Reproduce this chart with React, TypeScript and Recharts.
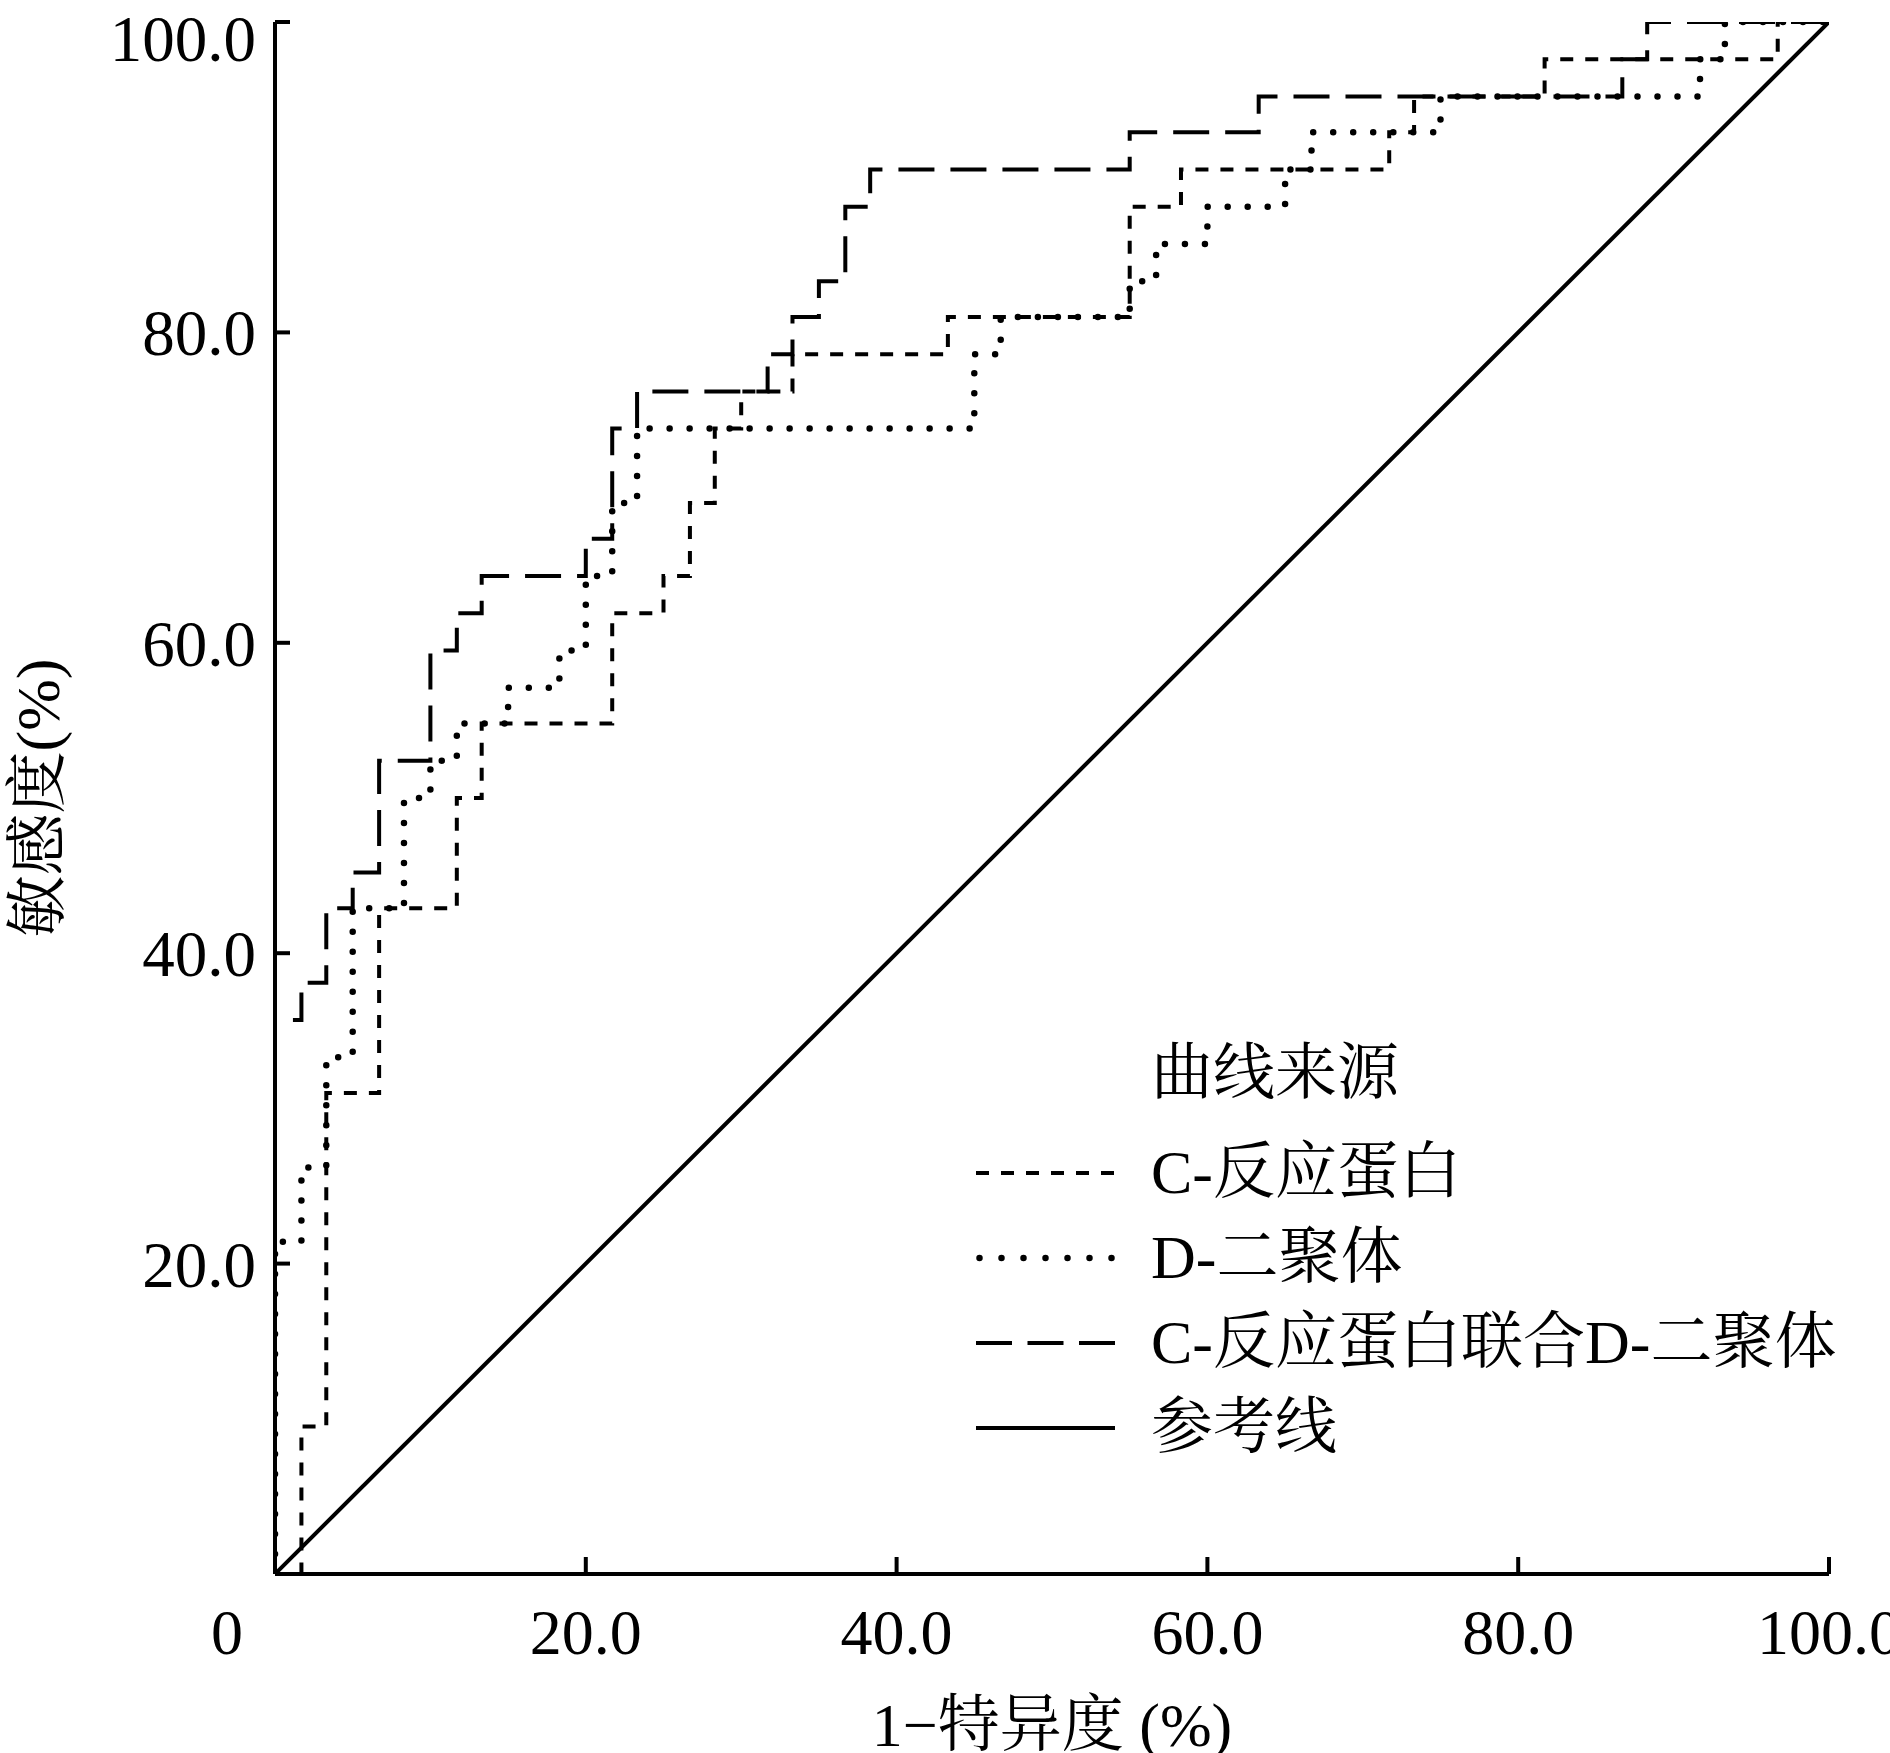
import { LineChart, Line, XAxis, YAxis, Legend, Label } from "recharts";

// ROC vertices (1 - specificity %, sensitivity %)
const CRP_X = [0, 1.7, 1.7, 3.3, 3.3, 6.7, 6.7, 11.7, 11.7, 13.3, 13.3, 21.7, 21.7, 25.0, 25.0, 26.7, 26.7, 28.3, 28.3, 30.0, 30.0, 33.3, 33.3, 43.3, 43.3, 55.0, 55.0, 58.3, 58.3, 71.7, 71.7, 73.3, 73.3, 81.7, 81.7, 96.7, 96.7, 100];
const CRP_Y = [0, 0, 9.5, 9.5, 31.0, 31.0, 42.9, 42.9, 50.0, 50.0, 54.8, 54.8, 61.9, 61.9, 64.3, 64.3, 69.0, 69.0, 73.8, 73.8, 76.2, 76.2, 78.6, 78.6, 81.0, 81.0, 88.1, 88.1, 90.5, 90.5, 92.9, 92.9, 95.2, 95.2, 97.6, 97.6, 100, 100];

const DD_X = [0, 0, 1.7, 1.7, 3.3, 3.3, 5.0, 5.0, 8.3, 8.3, 10.0, 10.0, 11.7, 11.7, 15.0, 15.0, 18.3, 18.3, 20.0, 20.0, 21.7, 21.7, 23.3, 23.3, 45.0, 45.0, 46.7, 46.7, 55.0, 55.0, 56.7, 56.7, 60.0, 60.0, 65.0, 65.0, 66.7, 66.7, 75.0, 75.0, 91.7, 91.7, 93.3, 93.3, 100];
const DD_Y = [0, 21.4, 21.4, 26.2, 26.2, 33.3, 33.3, 42.9, 42.9, 50.0, 50.0, 52.4, 52.4, 54.8, 54.8, 57.1, 57.1, 59.5, 59.5, 64.3, 64.3, 69.0, 69.0, 73.8, 73.8, 78.6, 78.6, 81.0, 81.0, 83.3, 83.3, 85.7, 85.7, 88.1, 88.1, 90.5, 90.5, 92.9, 92.9, 95.2, 95.2, 97.6, 97.6, 100, 100];

const COMB_X = [0, 0, 1.7, 1.7, 3.3, 3.3, 5.0, 5.0, 6.7, 6.7, 10.0, 10.0, 11.7, 11.7, 13.3, 13.3, 20.0, 20.0, 21.7, 21.7, 23.3, 23.3, 31.7, 31.7, 33.3, 33.3, 35.0, 35.0, 36.7, 36.7, 38.3, 38.3, 55.0, 55.0, 63.3, 63.3, 86.7, 86.7, 88.3, 88.3, 100];
const COMB_Y = [0, 35.7, 35.7, 38.1, 38.1, 42.9, 42.9, 45.2, 45.2, 52.4, 52.4, 59.5, 59.5, 61.9, 61.9, 64.3, 64.3, 66.7, 66.7, 73.8, 73.8, 76.2, 76.2, 78.6, 78.6, 81.0, 81.0, 83.3, 83.3, 88.1, 88.1, 90.5, 90.5, 92.9, 92.9, 95.2, 95.2, 97.6, 97.6, 100, 100];

const REF_X = [0, 100];
const REF_Y = [0, 100];

const X_TICKS = [0, 20, 40, 60, 80, 100];
const X_TICK_LABELS = ["0", "20.0", "40.0", "60.0", "80.0", "100.0"];
const Y_TICKS = [20, 40, 60, 80, 100];
const Y_TICK_LABELS = ["20.0", "40.0", "60.0", "80.0", "100.0"];

const toPoints = (xs: number[], ys: number[]) => xs.map((x, i) => ({ x, y: ys[i] }));

const FONT = "'Liberation Serif', 'Times New Roman', 'Noto Serif CJK SC', 'Noto Sans CJK SC', serif";

const SERIES = [
  { name: "C-反应蛋白", data: toPoints(CRP_X, CRP_Y), dash: "13 12", legendDash: "13 12", width: 4, cap: "butt" as const },
  { name: "D-二聚体", data: toPoints(DD_X, DD_Y), dash: "0 20", legendDash: "0 22", width: 6.5, cap: "round" as const },
  { name: "C-反应蛋白联合D-二聚体", data: toPoints(COMB_X, COMB_Y), dash: "36 16", legendDash: "36 15.5", width: 4, cap: "butt" as const },
  { name: "参考线", data: toPoints(REF_X, REF_Y), dash: undefined, legendDash: undefined, width: 4, cap: "butt" as const },
];

function XTick(props: any) {
  const { x, y, payload } = props;
  const label = X_TICK_LABELS[X_TICKS.indexOf(payload.value)];
  // SPSS puts the origin "0" left of the axis corner
  const shift = payload.value === 0 ? -48 : 0;
  return (
    <text x={x + shift} y={y} dy="0.71em" textAnchor="middle" fontSize={64} fontFamily={FONT} fill="#000">
      {label}
    </text>
  );
}

function RocLegend({ payload }: any) {
  const names = (payload || []).map((p: any) => p.value);
  // keep the drawing order, not the legend's sorted order
  const items = SERIES.filter((s) => names.includes(s.name));
  return (
    <div style={{ fontFamily: FONT, fontSize: 62, color: "#000" }}>
      <div style={{ height: 86, lineHeight: "86px", paddingLeft: 175, whiteSpace: "nowrap" }}>曲线来源</div>
      <div style={{ height: 14 }} />
      {items.map((s) => (
        <div key={s.name} style={{ display: "flex", alignItems: "center", height: 85 }}>
          <svg width={140} height={20} style={{ flex: "none" }}>
            <line
              x1={s.cap === "round" ? 3.5 : 0}
              x2={s.cap === "round" ? 137 : 139}
              y1={10}
              y2={10}
              stroke="#000"
              strokeWidth={s.width}
              strokeDasharray={s.legendDash}
              strokeLinecap={s.cap}
            />
          </svg>
          <span style={{ marginLeft: 35, lineHeight: "85px", whiteSpace: "nowrap" }}>{s.name}</span>
        </div>
      ))}
    </div>
  );
}

export default function App() {
  return (
    <div style={{ width: 1890, height: 1753, background: "#fff", overflow: "hidden" }}>
      <style>{"body{margin:0}"}</style>
      <LineChart width={1890} height={1753} margin={{ top: 22, right: 61, bottom: 0, left: 0 }}>
        <XAxis
          type="number"
          dataKey="x"
          domain={[0, 100]}
          ticks={X_TICKS}
          height={179}
          tick={<XTick />}
          tickSize={-17}
          tickMargin={52}
          axisLine={{ stroke: "#000", strokeWidth: 4 }}
          tickLine={{ stroke: "#000", strokeWidth: 4 }}
          allowDataOverflow
        >
          <Label
            value="1−特异度 (%)"
            position="center"
            dy={60}
            style={{ fontSize: 62, fontFamily: FONT, fill: "#000", whiteSpace: "pre" }}
          />
        </XAxis>
        <YAxis
          type="number"
          dataKey="y"
          domain={[0, 100]}
          ticks={Y_TICKS}
          width={275}
          tickFormatter={(v: number) => Y_TICK_LABELS[Y_TICKS.indexOf(v)]}
          tick={{ fontSize: 65, fontFamily: FONT, fill: "#000" }}
          tickSize={-15}
          tickMargin={34}
          axisLine={{ stroke: "#000", strokeWidth: 4 }}
          tickLine={{ stroke: "#000", strokeWidth: 4 }}
          allowDataOverflow
        >
          <Label
            value="敏感度(%)"
            position="center"
            angle={-90}
            dx={-101}
            style={{ fontSize: 62, fontFamily: FONT, fill: "#000" }}
          />
        </YAxis>
        <Legend
          layout="vertical"
          align="center"
          verticalAlign="middle"
          content={<RocLegend />}
          wrapperStyle={{ left: 976, top: 1030, width: 880 }}
        />
        {SERIES.map((s) => (
          <Line
            key={s.name}
            name={s.name}
            data={s.data}
            dataKey="y"
            type="linear"
            stroke="#000"
            strokeWidth={s.width}
            strokeDasharray={s.dash}
            strokeLinecap={s.cap}
            dot={false}
            activeDot={false}
            isAnimationActive={false}
          />
        ))}
      </LineChart>
    </div>
  );
}
